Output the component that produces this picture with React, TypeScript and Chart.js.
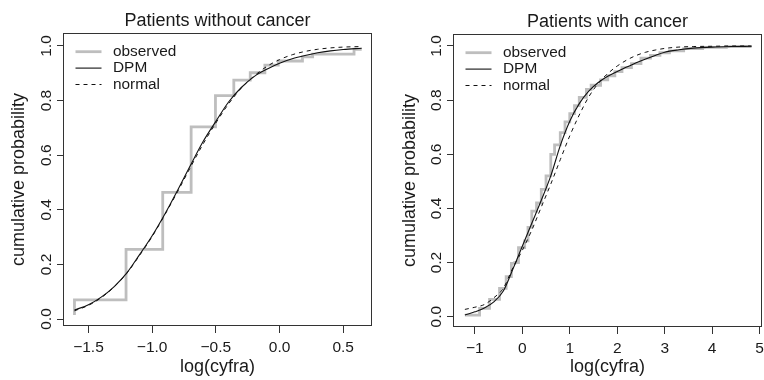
import React, { useEffect, useRef } from "react";
import { Chart, registerables } from "chart.js";

Chart.register(...registerables);

// ---------- Left panel: Patients without cancer ----------
const leftTitle = "Patients without cancer";
const leftObsX = [-1.61, -1.61, -1.205, -0.917, -0.694, -0.503, -0.359, -0.23, -0.115, -0.01, 0.18, 0.26, 0.585, 0.645];
const leftObsY = [0.015, 0.07, 0.255, 0.464, 0.704, 0.818, 0.875, 0.902, 0.93, 0.945, 0.96, 0.97, 0.988, 0.988];
const leftCurveX = [-1.61, -1.5, -1.4, -1.3, -1.2, -1.1, -1.0, -0.9, -0.8, -0.7, -0.6, -0.5, -0.4, -0.3, -0.2, -0.1, 0.0, 0.1, 0.2, 0.3, 0.4, 0.5, 0.645];
const leftDpmY = [0.033, 0.052, 0.080, 0.118, 0.168, 0.235, 0.305, 0.385, 0.472, 0.562, 0.650, 0.724, 0.795, 0.848, 0.888, 0.915, 0.937, 0.953, 0.965, 0.975, 0.982, 0.987, 0.992];
const leftNormY = [0.030, 0.050, 0.078, 0.117, 0.167, 0.232, 0.302, 0.382, 0.467, 0.555, 0.641, 0.718, 0.788, 0.846, 0.890, 0.925, 0.950, 0.968, 0.980, 0.988, 0.993, 0.996, 0.998];
const leftXTicks = [-1.5, -1.0, -0.5, 0.0, 0.5];
const leftXTickLabels = ["\u22121.5", "\u22121.0", "\u22120.5", "0.0", "0.5"];

// ---------- Right panel: Patients with cancer ----------
const rightTitle = "Patients with cancer";
const rightObsX = [-1.21, -0.9, -0.69, -0.48, -0.34, -0.23, -0.16, -0.08, 0.05, 0.12, 0.2, 0.3, 0.4, 0.5, 0.6, 0.68, 0.8, 0.9, 1.0, 1.1, 1.2, 1.35, 1.45, 1.65, 1.8, 1.95, 2.1, 2.3, 2.5, 2.7, 2.9, 3.1, 3.4, 3.8, 4.3, 4.8];
const rightObsY = [0.006, 0.031, 0.064, 0.105, 0.148, 0.197, 0.20, 0.255, 0.28, 0.33, 0.39, 0.42, 0.47, 0.52, 0.60, 0.635, 0.68, 0.72, 0.75, 0.78, 0.81, 0.84, 0.855, 0.875, 0.89, 0.905, 0.92, 0.935, 0.955, 0.965, 0.975, 0.982, 0.99, 0.995, 0.998, 1.0];
const rightCurveX = [-1.21, -1.0, -0.8, -0.6, -0.4, -0.2, 0.0, 0.2, 0.4, 0.6, 0.8, 1.0, 1.2, 1.4, 1.6, 1.8, 2.0, 2.2, 2.4, 2.6, 2.8, 3.0, 3.3, 3.6, 4.0, 4.4, 4.83];
const rightDpmY = [0.006, 0.018, 0.032, 0.055, 0.095, 0.175, 0.26, 0.345, 0.43, 0.52, 0.632, 0.722, 0.787, 0.833, 0.865, 0.888, 0.906, 0.922, 0.938, 0.952, 0.965, 0.977, 0.986, 0.992, 0.996, 0.998, 0.999];
const rightNormY = [0.027, 0.035, 0.045, 0.070, 0.105, 0.180, 0.245, 0.320, 0.405, 0.490, 0.580, 0.668, 0.745, 0.812, 0.862, 0.898, 0.926, 0.948, 0.965, 0.977, 0.985, 0.991, 0.996, 0.998, 0.999, 1.0, 1.0];
const rightXTicks = [-1, 0, 1, 2, 3, 4, 5];
const rightXTickLabels = ["\u22121", "0", "1", "2", "3", "4", "5"];

// ---------- Shared ----------
const yTicks = [0, 0.2, 0.4, 0.6, 0.8, 1.0];
const yTickLabels = ["0.0", "0.2", "0.4", "0.6", "0.8", "1.0"];
const seriesLabels = ["observed", "DPM", "normal"];
const xTitle = "log(cyfra)";
const yTitle = "cumulative probability";

const FONT = "'Liberation Sans', Arial, Helvetica, sans-serif";
const TEXT = "#1a1a1a";
const AXIS = "#333333";
const GRAY = "#bebebe";
const TITLE_SIZE = 18;
const TICK_SIZE = 15.5;

const pts = (xs: number[], ys: number[]) => xs.map((x, i) => ({ x, y: ys[i] }));

const framePlugin = {
  id: "rFrame",
  afterDatasetsDraw(chart: any) {
    const { ctx, chartArea: a } = chart;
    ctx.save();
    ctx.strokeStyle = AXIS;
    ctx.lineWidth = 1;
    const l = Math.round(a.left) + 0.5;
    const r = Math.round(a.right) - 0.5;
    const t = Math.round(a.top) + 0.5;
    const b = Math.round(a.bottom) - 0.5;
    ctx.strokeRect(l, t, r - l, b - t);
    ctx.restore();
  },
};

const legendPlugin = {
  id: "rLegend",
  afterDatasetsDraw(chart: any, _args: any, opts: any) {
    const { ctx, chartArea: a } = chart;
    ctx.save();
    ctx.font = `${opts.size}px ${FONT}`;
    ctx.textBaseline = "middle";
    ctx.textAlign = "left";
    chart.data.datasets.forEach((ds: any, i: number) => {
      const y = a.top + opts.rowTop + i * opts.rowGap;
      ctx.beginPath();
      ctx.strokeStyle = ds.borderColor;
      ctx.lineWidth = ds.borderWidth;
      ctx.setLineDash(ds.borderDash || []);
      ctx.moveTo(a.left + opts.lineX0, y);
      ctx.lineTo(a.left + opts.lineX1, y);
      ctx.stroke();
      ctx.setLineDash([]);
      ctx.fillStyle = TEXT;
      ctx.fillText(ds.label, a.left + opts.textX, y);
    });
    ctx.restore();
  },
};

type PanelProps = {
  left: number;
  title: string;
  obsX: number[];
  obsY: number[];
  curveX: number[];
  dpmY: number[];
  normY: number[];
  xTicks: number[];
  xTickLabels: string[];
  xMin: number;
  xMax: number;
  yMin: number;
  yMax: number;
  yAxisWidth: number;
  xAxisHeight: number;
  titleTop: number;
  padRight: number;
  yTitlePad: number;
};

function Panel(p: PanelProps) {
  const ref = useRef<HTMLCanvasElement>(null);
  useEffect(() => {
    if (!ref.current) return;
    const chart = new Chart(ref.current, {
      type: "line",
      data: {
        datasets: [
          {
            label: seriesLabels[0],
            data: pts(p.obsX, p.obsY),
            borderColor: GRAY,
            borderWidth: 2.8,
            stepped: "before",
            pointRadius: 0,
            fill: false,
            order: 3,
          },
          {
            label: seriesLabels[1],
            data: pts(p.curveX, p.dpmY),
            borderColor: "#111111",
            borderWidth: 1.1,
            cubicInterpolationMode: "monotone",
            pointRadius: 0,
            fill: false,
            order: 2,
          },
          {
            label: seriesLabels[2],
            data: pts(p.curveX, p.normY),
            borderColor: "#111111",
            borderWidth: 1,
            borderDash: [4, 4],
            cubicInterpolationMode: "monotone",
            pointRadius: 0,
            fill: false,
            order: 1,
          },
        ],
      } as any,
      options: {
        responsive: false,
        animation: false,
        devicePixelRatio: 1,
        events: [],
        layout: { padding: { left: 0, right: p.padRight, top: 0, bottom: 0 } },
        plugins: {
          legend: { display: false },
          tooltip: { enabled: false },
          title: {
            display: true,
            text: p.title,
            fullSize: false,
            color: TEXT,
            font: { family: FONT, size: TITLE_SIZE, weight: "normal", lineHeight: 1.2 },
            padding: { top: p.titleTop, bottom: 1.4 },
          },
          rLegend: { size: 15.4, rowTop: 18.7, rowGap: 16.4, lineX0: 12.5, lineX1: 38.5, textX: 50 },
        } as any,
        scales: {
          x: {
            type: "linear",
            position: "bottom",
            min: p.xMin,
            max: p.xMax,
            afterBuildTicks: (s: any) => {
              s.ticks = p.xTicks.map((v) => ({ value: v }));
            },
            afterFit: (s: any) => {
              s.height = p.xAxisHeight;
              s.paddingLeft = 0;
              s.paddingRight = 0;
            },
            ticks: {
              autoSkip: false,
              maxRotation: 0,
              minRotation: 0,
              padding: 5,
              color: TEXT,
              font: { family: FONT, size: TICK_SIZE },
              callback: (_v: any, i: number) => p.xTickLabels[i],
            },
            grid: { drawOnChartArea: false, drawTicks: true, tickLength: 7, tickColor: AXIS, color: AXIS },
            border: { display: false },
            title: {
              display: true,
              text: xTitle,
              color: TEXT,
              font: { family: FONT, size: TITLE_SIZE },
              padding: { top: 0, bottom: 2.5 },
            },
          },
          y: {
            type: "linear",
            position: "left",
            min: p.yMin,
            max: p.yMax,
            afterBuildTicks: (s: any) => {
              s.ticks = yTicks.map((v) => ({ value: v }));
            },
            afterFit: (s: any) => {
              s.width = p.yAxisWidth;
              s.paddingTop = 0;
              s.paddingBottom = 0;
            },
            ticks: {
              autoSkip: false,
              minRotation: 90,
              maxRotation: 90,
              crossAlign: "center",
              padding: 0,
              color: TEXT,
              font: { family: FONT, size: TICK_SIZE },
              callback: (_v: any, i: number) => yTickLabels[i],
            },
            grid: { drawOnChartArea: false, drawTicks: true, tickLength: 6, tickColor: AXIS, color: AXIS },
            border: { display: false },
            title: {
              display: true,
              text: yTitle,
              color: TEXT,
              font: { family: FONT, size: TITLE_SIZE },
              padding: { top: p.yTitlePad, bottom: 0 },
            },
          },
        },
      } as any,
      plugins: [framePlugin, legendPlugin],
    });
    return () => chart.destroy();
  }, []);
  return (
    <canvas
      ref={ref}
      width={382}
      height={380}
      style={{ position: "absolute", left: p.left, top: 0, width: 382, height: 380 }}
    />
  );
}

export default function App() {
  return (
    <div style={{ position: "absolute", left: 0, top: 0, width: 764, height: 380, background: "#ffffff", overflow: "hidden" }}>
      <Panel
        left={0}
        title={leftTitle}
        obsX={leftObsX}
        obsY={leftObsY}
        curveX={leftCurveX}
        dpmY={leftDpmY}
        normY={leftNormY}
        xTicks={leftXTicks}
        xTickLabels={leftXTickLabels}
        xMin={-1.70}
        xMax={0.726}
        yMin={-0.0256}
        yMax={1.0476}
        yAxisWidth={63}
        xAxisHeight={54}
        titleTop={10}
        padRight={10}
        yTitlePad={8.5}
      />
      <Panel
        left={382}
        title={rightTitle}
        obsX={rightObsX}
        obsY={rightObsY}
        curveX={rightCurveX}
        dpmY={rightDpmY}
        normY={rightNormY}
        xTicks={rightXTicks}
        xTickLabels={rightXTickLabels}
        xMin={-1.46}
        xMax={5.05}
        yMin={-0.038}
        yMax={1.0443}
        yAxisWidth={71}
        xAxisHeight={53}
        titleTop={11}
        padRight={2}
        yTitlePad={17}
      />
    </div>
  );
}
